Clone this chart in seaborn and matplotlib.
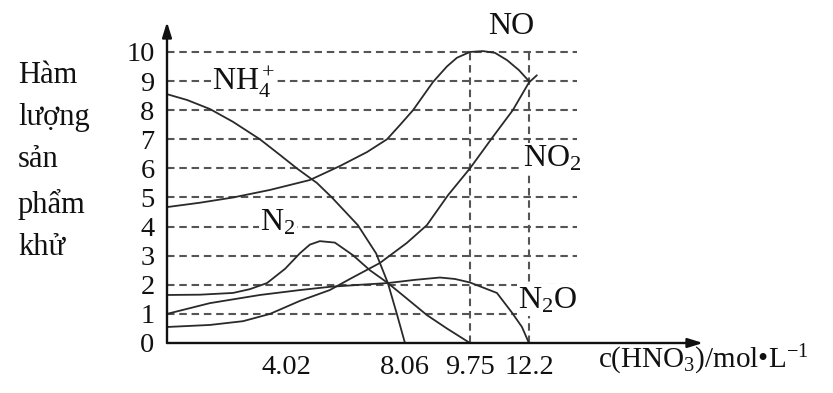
import numpy as np
import pandas as pd
import matplotlib
matplotlib.use("Agg")
import matplotlib.pyplot as plt
import seaborn as sns

# ---------------- data ----------------
nh4_x = [0, 0.68, 1.45, 2.23, 3.14, 3.82, 4.39, 5.07, 5.58, 6.46, 7.08, 7.48, 7.79, 8.06]
nh4_y = [8.55, 8.35, 8.04, 7.6, 7.0, 6.46, 6.0, 5.5, 5.0, 4.05, 3.08, 2.06, 0.98, 0.0]

no_x = [0, 1.11, 2.23, 3.48, 4.83, 5.85, 6.77, 7.45, 7.89, 8.27, 8.79, 9.15, 9.41, 9.75, 10.29, 10.79, 11.29, 11.78, 12.2]
no_y = [4.67, 4.82, 5.0, 5.26, 5.6, 6.08, 6.56, 7.0, 7.49, 8.0, 8.97, 9.5, 9.8, 10.0, 10.03, 9.97, 9.72, 9.38, 9.0]

no2_x = [0, 1.45, 2.57, 3.48, 4.50, 5.51, 6.19, 7.21, 8.11, 8.63, 9.18, 9.75, 10.7, 11.53, 12.2, 12.53]
no2_y = [0.55, 0.62, 0.75, 1.0, 1.45, 1.82, 2.2, 2.75, 3.44, 4.05, 5.08, 6.0, 7.08, 8.0, 8.95, 9.2]

n2o_x = [0, 1.45, 3.14, 4.50, 5.51, 6.53, 7.48, 8.32, 8.97, 9.36, 9.75, 10.87, 11.49, 11.91, 12.2]
n2o_y = [1.0, 1.37, 1.65, 1.82, 1.93, 2.0, 2.06, 2.17, 2.25, 2.2, 2.08, 1.72, 1.05, 0.55, 0.0]

n2_x = [0, 1.11, 2.23, 2.80, 3.38, 3.99, 4.50, 4.83, 5.17, 5.68, 6.29, 6.87, 7.48, 8.06, 8.63, 9.15, 9.75]
n2_y = [1.65, 1.66, 1.72, 1.85, 2.06, 2.55, 3.09, 3.38, 3.50, 3.45, 3.02, 2.5, 2.06, 1.58, 0.96, 0.5, 0.0]

x_ticks = [4.02, 8.06, 9.75, 12.2]
x_tick_labels = ["4.02", "8.06", "9.75", "12.2"]
y_ticks = [0, 1, 2, 3, 4, 5, 6, 7, 8, 9, 10]
y_label = "Hàm\nlượng\nsản\nphẩm\nkhử"
x_label = r"c(HNO$_3$)/mol•L$^{\mathregular{-1}}$"

frames = []
for name, xs, ys in [("NH4", nh4_x, nh4_y), ("NO", no_x, no_y), ("NO2", no2_x, no2_y),
                     ("N2O", n2o_x, n2o_y), ("N2", n2_x, n2_y)]:
    frames.append(pd.DataFrame({"c": xs, "v": ys, "sp": name}))
df = pd.concat(frames, ignore_index=True)

# ---------------- style ----------------
sns.set_theme(style="white")
plt.rcParams["font.family"] = ["Liberation Serif", "DejaVu Serif"]
plt.rcParams["mathtext.fontset"] = "custom"
plt.rcParams["mathtext.rm"] = "Liberation Serif"
plt.rcParams["mathtext.it"] = "Liberation Serif:italic"
plt.rcParams["mathtext.bf"] = "Liberation Serif:bold"

fig = plt.figure(figsize=(8.33, 3.93), dpi=100)
ax = fig.add_axes([167 / 833, 50 / 393, 536 / 833, 321 / 393])

# schematic (non-proportional) concentration axis
knot_c = [-100, 0, 4.02, 8.06, 9.75, 12.2, 100]
knot_p = [-100 * 29.6, 0, 119, 238, 303, 362, 362 + 87.8 * 24.08]
def fwd(x):
    return np.interp(x, knot_c, knot_p)
def inv(p):
    return np.interp(p, knot_p, knot_c)
ax.set_xscale("function", functions=(fwd, inv))
ax.set_xlim(0, 19.43)
ax.set_ylim(0, 11.03)

grid_col = "#555555"
dash = (0, (3.6, 2.3))
ax.hlines(y_ticks[1:], 0, 14.2, colors=grid_col, linestyles=dash, lw=1.5, zorder=1)
ax.vlines([9.75, 12.2], 0, 10, colors=grid_col, linestyles=dash, lw=1.5, zorder=1)

pal = {k: "#2a2a2a" for k in df["sp"].unique()}
sns.lineplot(data=df, x="c", y="v", hue="sp", palette=pal, sort=False,
             estimator=None, legend=False, lw=1.3, ax=ax, zorder=3)

for s in ax.spines.values():
    s.set_visible(False)
arrow_kw = dict(arrowstyle="-|>,head_length=0.9,head_width=0.28", color="#111111",
                lw=1.7, shrinkA=0, shrinkB=0, mutation_scale=10)
ax.annotate("", xy=(1, 0), xytext=(0, 0), xycoords="axes fraction",
            textcoords="axes fraction", arrowprops=arrow_kw, zorder=4)
ax.annotate("", xy=(0, 1), xytext=(0, 0), xycoords="axes fraction",
            textcoords="axes fraction", arrowprops=arrow_kw, zorder=4)

ax.set_xticks(x_ticks)
ax.set_xticklabels(x_tick_labels)
ax.set_yticks(y_ticks)
ax.set_yticklabels([str(v) for v in y_ticks])
ax.tick_params(axis="x", direction="in", length=6, width=1.2, pad=9,
               labelsize=20.5, colors="#111111")
ax.tick_params(axis="y", length=0, pad=9, labelsize=20.5, colors="#111111")
ax.set_xlabel("")
ax.set_ylabel("")
ax.minorticks_off()

lab_kw = dict(fontsize=23, color="#111111", zorder=5,
              bbox=dict(facecolor="white", edgecolor="none", pad=1.0))
ax.text(11.45, 10.89, "NO", ha="center", va="center", **lab_kw)
ax.text(1.52, 8.66, r"NH$_4^+$", ha="left", va="baseline", **lab_kw)
ax.text(3.14, 3.88, r"N$_2$", ha="left", va="baseline", **lab_kw)
ax.text(11.95, 6.05, r"NO$_2$", ha="left", va="baseline", **lab_kw)
ax.text(11.74, 1.20, r"N$_2$O", ha="left", va="baseline", **lab_kw)
ax.text(15.07, -0.86, x_label, ha="left", va="baseline", fontsize=21,
        color="#111111", clip_on=False)

fig.text(18 / 833, (393 - 255) / 393, y_label, ha="left", va="baseline",
         fontsize=22, color="#111111", linespacing=1.6)

fig.savefig("out.png", dpi=100)
